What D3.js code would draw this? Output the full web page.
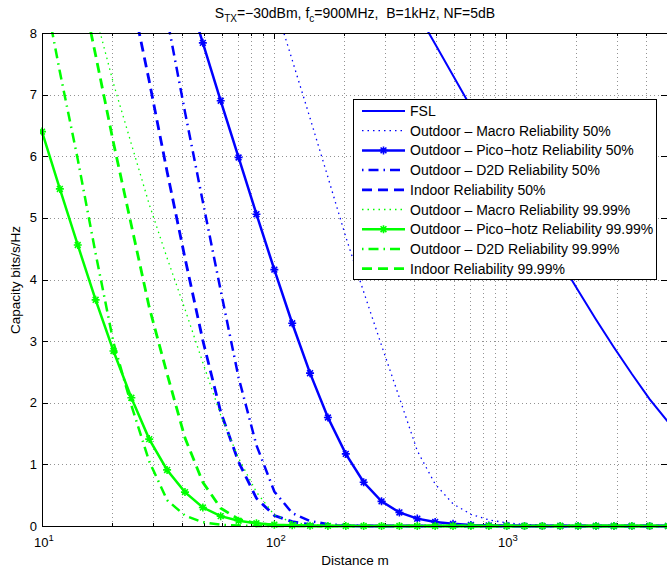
<!DOCTYPE html>
<html>
<head>
<meta charset="utf-8">
<script src="https://cdn.jsdelivr.net/npm/d3@7"></script>
<style>
  body { margin: 0; background: #fff; }
  text { font-family: "Liberation Sans", Arial, Helvetica, sans-serif; fill: #000; }
</style>
</head>
<body>
<svg id="chart" width="667" height="570"></svg>
<script>
// distance grid (m), one entry per plotted point
var distance = [10, 11.94, 14.26, 17.03, 20.33, 24.28, 28.99, 34.62, 41.34, 49.37,
  58.95, 70.39, 84.06, 100.4, 119.9, 143.1, 170.9, 204.1, 243.7, 291.0,
  347.5, 415.0, 495.5, 591.7, 706.6, 843.7, 1008, 1203, 1437, 1716,
  2049, 2446, 2921, 3488, 4165, 5000];

// capacity in bits/s/Hz, null = above the plotted range
var fsl = [null, null, null, null, null, null, null, null, null, null,
  null, null, null, null, null, null, null, null, null, null,
  null, 8.33, 7.82, 7.31, 6.80, 6.29, 5.79, 5.29, 4.79, 4.30,
  3.82, 3.35, 2.90, 2.47, 2.06, 1.69];
var macro50 = [null, null, null, null, null, null, null, null, null, null,
  null, null, null, 8.50, 7.56, 6.62, 5.66, 4.69, 3.80, 2.93,
  2.08, 1.22, 0.68, 0.36, 0.19, 0.10, 0.05, 0.025, 0.012, 0.006,
  0.003, 0, 0, 0, 0, 0];
var pico50 = [null, null, null, null, null, null, null, null, 8.77, 7.84,
  6.90, 5.98, 5.06, 4.16, 3.29, 2.48, 1.76, 1.17, 0.71, 0.40,
  0.22, 0.12, 0.065, 0.035, 0.018, 0.009, 0.005, 0.002, 0, 0,
  0, 0, 0, 0, 0, 0];
var d2d50 = [null, null, null, null, null, null, null, 8.24, 6.72, 5.26,
  3.82, 2.41, 1.31, 0.56, 0.21, 0.08, 0.03, 0.01, 0.003, 0,
  0, 0, 0, 0, 0, 0, 0, 0, 0, 0,
  0, 0, 0, 0, 0, 0];
var indoor50 = [null, null, null, null, null, 8.62, 7.22, 5.75, 4.35, 3.01,
  1.85, 1.04, 0.45, 0.17, 0.07, 0.025, 0.009, 0.003, 0, 0,
  0, 0, 0, 0, 0, 0, 0, 0, 0, 0,
  0, 0, 0, 0, 0, 0];
var macro99 = [null, null, null, 8.29, 7.18, 6.20, 5.22, 4.35, 3.52, 2.65,
  1.80, 1.10, 0.55, 0.18, 0.06, 0.02, 0.007, 0.002, 0, 0,
  0, 0, 0, 0, 0, 0, 0, 0, 0, 0,
  0, 0, 0, 0, 0, 0];
var pico99 = [6.40, 5.47, 4.56, 3.67, 2.84, 2.08, 1.41, 0.91, 0.55, 0.30,
  0.16, 0.085, 0.045, 0.022, 0.011, 0.005, 0.002, 0, 0, 0,
  0, 0, 0, 0, 0, 0, 0, 0, 0, 0,
  0, 0, 0, 0, 0, 0];
var d2d99 = [8.88, 7.37, 5.95, 4.42, 2.98, 1.96, 1.05, 0.42, 0.17, 0.06,
  0.02, 0.007, 0.002, 0, 0, 0, 0, 0, 0, 0,
  0, 0, 0, 0, 0, 0, 0, 0, 0, 0,
  0, 0, 0, 0, 0, 0];
var indoor99 = [null, null, 9.04, 7.64, 6.22, 4.88, 3.55, 2.47, 1.43, 0.71,
  0.29, 0.11, 0.04, 0.015, 0.005, 0, 0, 0, 0, 0,
  0, 0, 0, 0, 0, 0, 0, 0, 0, 0,
  0, 0, 0, 0, 0, 0];

var xMajor = [10, 100, 1000];
var yTicks = [0, 1, 2, 3, 4, 5, 6, 7, 8];

(function () {
  'use strict';

  var BLUE = "#0000ff", GREEN = "#00ff00";
  var series = [
    { name: "FSL", values: fsl, color: BLUE, width: 2, dash: null },
    { name: "Outdoor \u2013 Macro Reliability 50%", values: macro50, color: BLUE, width: 1.3, dash: "1.5,4" },
    { name: "Outdoor \u2013 Pico\u2212hotz Reliability 50%", values: pico50, color: BLUE, width: 2.5, dash: null, marker: true },
    { name: "Outdoor \u2013 D2D Reliability 50%", values: d2d50, color: BLUE, width: 2.5, dash: "1.5,5,10,5" },
    { name: "Indoor Reliability 50%", values: indoor50, color: BLUE, width: 2.8, dash: "10,6" },
    { name: "Outdoor \u2013 Macro Reliability 99.99%", values: macro99, color: GREEN, width: 1.3, dash: "1.5,4" },
    { name: "Outdoor \u2013 Pico\u2212hotz Reliability 99.99%", values: pico99, color: GREEN, width: 2.5, dash: null, marker: true },
    { name: "Outdoor \u2013 D2D Reliability 99.99%", values: d2d99, color: GREEN, width: 2.5, dash: "1.5,5,10,5" },
    { name: "Indoor Reliability 99.99%", values: indoor99, color: GREEN, width: 2.8, dash: "10,6" }
  ];

  var pLeft = 42, pRight = 668, pTop = 33, pBottom = 526;
  var svg = d3.select("#chart");

  var x = d3.scaleLog().domain([10, 5000]).range([pLeft, pRight]);
  var y = d3.scaleLinear().domain([0, 8]).range([pBottom, pTop]);

  // grid
  var grid = svg.append("g").attr("stroke", "#777").attr("stroke-width", 0.8)
    .attr("stroke-dasharray", "1,3").attr("fill", "none");
  x.ticks().forEach(function (t) {
    if (t <= 10) return;
    var px = Math.round(x(t)) + 0.5;
    grid.append("line").attr("x1", px).attr("x2", px).attr("y1", pTop).attr("y2", pBottom);
  });
  yTicks.forEach(function (t) {
    if (t === 0 || t === 8) return;
    var py = Math.round(y(t)) + 0.5;
    grid.append("line").attr("x1", pLeft).attr("x2", pRight).attr("y1", py).attr("y2", py);
  });

  // tick marks on all four sides
  var ticks = svg.append("g").attr("stroke", "#000").attr("stroke-width", 1);
  x.ticks().forEach(function (t) {
    var len = xMajor.indexOf(t) >= 0 ? 6 : 3;
    var px = Math.round(x(t)) + 0.5;
    ticks.append("line").attr("x1", px).attr("x2", px).attr("y1", pBottom).attr("y2", pBottom - len);
    ticks.append("line").attr("x1", px).attr("x2", px).attr("y1", pTop).attr("y2", pTop + len);
  });
  yTicks.forEach(function (t) {
    var py = Math.round(y(t)) + 0.5;
    ticks.append("line").attr("x1", pLeft).attr("x2", pLeft + 6).attr("y1", py).attr("y2", py);
    ticks.append("line").attr("x1", pRight).attr("x2", pRight - 7).attr("y1", py).attr("y2", py);
  });

  // data lines
  svg.append("clipPath").attr("id", "plot-clip").append("rect")
    .attr("x", pLeft - 2).attr("y", pTop - 1).attr("width", pRight - pLeft + 4).attr("height", pBottom - pTop + 5);

  var line = d3.line()
    .defined(function (d) { return d[1] !== null; })
    .x(function (d) { return x(d[0]); })
    .y(function (d) { return y(d[1]); });

  var star = "M-4,0L4,0M0,-4L0,4M-2.9,-2.9L2.9,2.9M-2.9,2.9L2.9,-2.9";

  var plot = svg.append("g").attr("clip-path", "url(#plot-clip)");
  series.forEach(function (s) {
    var pts = distance.map(function (d, i) { return [d, s.values[i]]; });
    plot.append("path")
      .attr("d", line(pts))
      .attr("fill", "none")
      .attr("stroke", s.color)
      .attr("stroke-width", s.width)
      .attr("stroke-dasharray", s.dash);
    if (s.marker) {
      plot.selectAll(null)
        .data(pts.filter(function (p) { return p[1] !== null; }))
        .enter().append("path")
        .attr("d", star)
        .attr("transform", function (p) { return "translate(" + x(p[0]) + "," + y(p[1]) + ")"; })
        .attr("fill", "none")
        .attr("stroke", s.color)
        .attr("stroke-width", 1.6);
    }
  });

  // axes box (left, bottom, top)
  svg.append("path")
    .attr("d", "M" + (pRight + 1) + "," + (pTop + 0.5) + "H" + (pLeft + 0.5) + "V" + (pBottom + 0.5) + "H" + (pRight + 1))
    .attr("fill", "none").attr("stroke", "#000").attr("stroke-width", 1);

  // tick labels
  yTicks.forEach(function (t) {
    svg.append("text").attr("x", 37).attr("y", y(t) + 4.5)
      .attr("text-anchor", "end").attr("font-size", 13).text(t);
  });
  xMajor.forEach(function (t) {
    var lbl = svg.append("text").attr("x", x(t) + 2).attr("y", 547)
      .attr("text-anchor", "middle").attr("font-size", 13);
    lbl.append("tspan").text("10");
    lbl.append("tspan").attr("dy", -6).attr("font-size", 9.5).text(Math.round(Math.log10(t)));
  });

  // axis titles
  svg.append("text").attr("x", (pLeft + pRight) / 2).attr("y", 565)
    .attr("text-anchor", "middle").attr("font-size", 13.5).text("Distance m");
  svg.append("text").attr("transform", "translate(20,280) rotate(-90)")
    .attr("text-anchor", "middle").attr("font-size", 13.5).text("Capacity bits/s/Hz");

  var title = svg.append("text").attr("x", 355).attr("y", 18)
    .attr("text-anchor", "middle").attr("font-size", 14).style("white-space", "pre");
  title.append("tspan").text("S");
  title.append("tspan").attr("dy", 4).attr("font-size", 10).text("TX");
  title.append("tspan").attr("dy", -4).text("=\u221230dBm, f");
  title.append("tspan").attr("dy", 4).attr("font-size", 10).text("c");
  title.append("tspan").attr("dy", -4).text("=900MHz,  B=1kHz, NF=5dB");

  // legend
  var lg = svg.append("g");
  lg.append("rect").attr("x", 353.5).attr("y", 99.5).attr("width", 303).attr("height", 180)
    .attr("fill", "#fff").attr("stroke", "#000").attr("stroke-width", 1);
  series.forEach(function (s, i) {
    var ry = 111 + 19.7 * i;
    lg.append("line").attr("x1", 362).attr("x2", 405).attr("y1", ry).attr("y2", ry)
      .attr("stroke", s.color).attr("stroke-width", s.width).attr("stroke-dasharray", s.dash);
    if (s.marker) {
      lg.append("path").attr("d", star).attr("transform", "translate(383.5," + ry + ")")
        .attr("fill", "none").attr("stroke", s.color).attr("stroke-width", 1.6);
    }
    lg.append("text").attr("x", 410).attr("y", ry + 5).attr("font-size", 14).text(s.name);
  });
})();
</script>
</body>
</html>
